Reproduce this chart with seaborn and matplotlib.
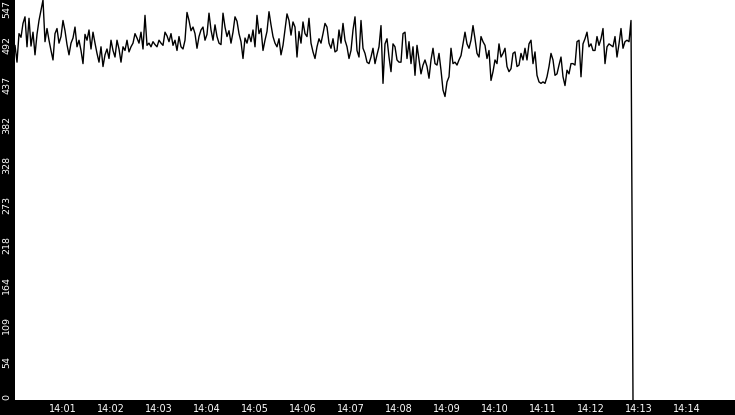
import numpy as np
import pandas as pd
import matplotlib
matplotlib.use("Agg")
import matplotlib.pyplot as plt
import matplotlib.dates as mdates
from matplotlib.transforms import ScaledTranslation
import seaborn as sns

# ---- data ----
start_time = "2024-01-01 14:00:00"
end_time = "2024-01-01 14:15:00"
sample_period = "2500ms"

seg_a = [485, 462, 501, 496, 515, 524, 483, 522, 484, 503, 472, 500, 519, 533, 547,
         490, 508, 492, 478, 465, 501, 508, 488, 497, 519, 505, 486, 472, 488, 495,
         510, 483, 492, 478, 460, 500, 492, 506, 480, 503, 488, 474, 462, 483, 456,
         472, 480, 467, 492, 478, 469, 492, 480, 462, 483, 478, 492, 476, 483, 488,
         501, 495]
seg_b = [488, 503, 480, 526, 485, 488, 483, 490, 486, 483, 492, 488, 485, 503, 498,
         490, 501, 485, 492, 478, 497, 483, 480, 492, 530, 519, 505, 510, 501, 481,
         497, 506, 510, 492, 500, 529, 506, 492, 513, 497, 488, 486, 529, 510, 497,
         505, 488, 503, 524, 518, 501, 490, 467, 495, 488, 500, 490, 506, 483, 526]
seg_c = [501, 508, 478, 492, 504, 531, 513, 497, 488, 483, 494, 472, 485, 506, 528,
         519, 499, 517, 510, 469, 504, 488, 517, 501, 497, 522, 488, 476, 467, 483,
         494, 488, 501, 515, 510, 488, 481, 494, 476, 478, 506, 488, 515, 492, 483,
         467, 478, 506, 524, 478, 469, 519, 481, 474, 462, 460, 469, 481, 460, 472]
seg_d = [483, 512, 433, 487, 494, 469, 449, 487, 483, 465, 462, 462, 501, 503, 467,
         490, 460, 483, 444, 485, 465, 446, 458, 465, 456, 440, 465, 481, 460, 458,
         474, 451, 424, 415, 435, 442, 481, 460, 462, 458, 465, 471, 487, 503, 487,
         481, 492, 512, 494, 474, 469, 497, 490, 485, 467, 478, 437, 449, 465, 460]
seg_e = [487, 469, 474, 481, 456, 449, 453, 474, 476, 456, 458, 474, 465, 481, 465,
         487, 492, 460, 476, 444, 435, 433, 435, 433, 442, 456, 474, 465, 444, 446,
         458, 469, 442, 430, 451, 446, 460, 460, 458, 490, 492, 442, 487, 494, 503,
         483, 487, 478, 478, 497, 485, 494, 508, 460, 483, 487, 485, 483, 497, 469,
         487, 508, 481, 490, 492, 490, 519]
# final drop, with its own timestamps
seg_end = [260, 0]
seg_end_times = ["2024-01-01 14:12:51.25", "2024-01-01 14:12:52.5"]

y_tick_labels = ["0", "54", "109", "164", "218", "273", "328", "382", "437", "492", "547"]
y_max = 547

main_values = seg_a + seg_b + seg_c + seg_d + seg_e
main_times = pd.date_range(start_time, periods=len(main_values), freq=sample_period)
times = main_times.append(pd.DatetimeIndex(pd.to_datetime(seg_end_times)))
values = main_values + seg_end
df = pd.DataFrame({"time": times, "value": values})

# ---- plot ----
sns.set_theme(style="white")
plt.rcParams["font.family"] = ["DejaVu Sans"]

W, H = 735, 415
fig = plt.figure(figsize=(W / 100, H / 100), dpi=100, facecolor="black")
ax = fig.add_axes([15 / W, 15 / H, 720 / W, 400 / H])
ax.set_facecolor("white")

sns.lineplot(data=df, x="time", y="value", ax=ax, color="black",
             linewidth=1.0, estimator=None)

ax.set_xlim(pd.Timestamp(start_time), pd.Timestamp(end_time))
ax.set_ylim(0, y_max)
for s in ax.spines.values():
    s.set_visible(False)
ax.set_xlabel("")
ax.set_ylabel("")

ax.xaxis.set_major_locator(mdates.MinuteLocator(byminute=range(1, 15)))
ax.xaxis.set_major_formatter(mdates.DateFormatter("%H:%M"))
ax.set_yticks(np.linspace(0, y_max, len(y_tick_labels)))
ax.set_yticklabels(y_tick_labels)

ax.tick_params(axis="x", which="major", colors="white", length=3.6,
               width=0.8, labelsize=7, direction="out", pad=5.2)
ax.tick_params(axis="y", which="major", colors="white", length=2.9,
               width=0.8, labelsize=6.8, direction="out", pad=3.2)

fig.canvas.draw()
for lab in ax.get_xticklabels():
    lab.set_va("baseline")

n = len(y_tick_labels)
for i, lab in enumerate(ax.get_yticklabels()):
    lab.set_rotation(90)
    lab.set_ha("center")
    if i == 0:
        lab.set_va("bottom")
    elif i == n - 1:
        lab.set_va("top")
    else:
        lab.set_va("top")
        lab.set_transform(lab.get_transform() +
                          ScaledTranslation(0, 4 / 100, fig.dpi_scale_trans))

fig.savefig("out.png", dpi=100, facecolor="black")
